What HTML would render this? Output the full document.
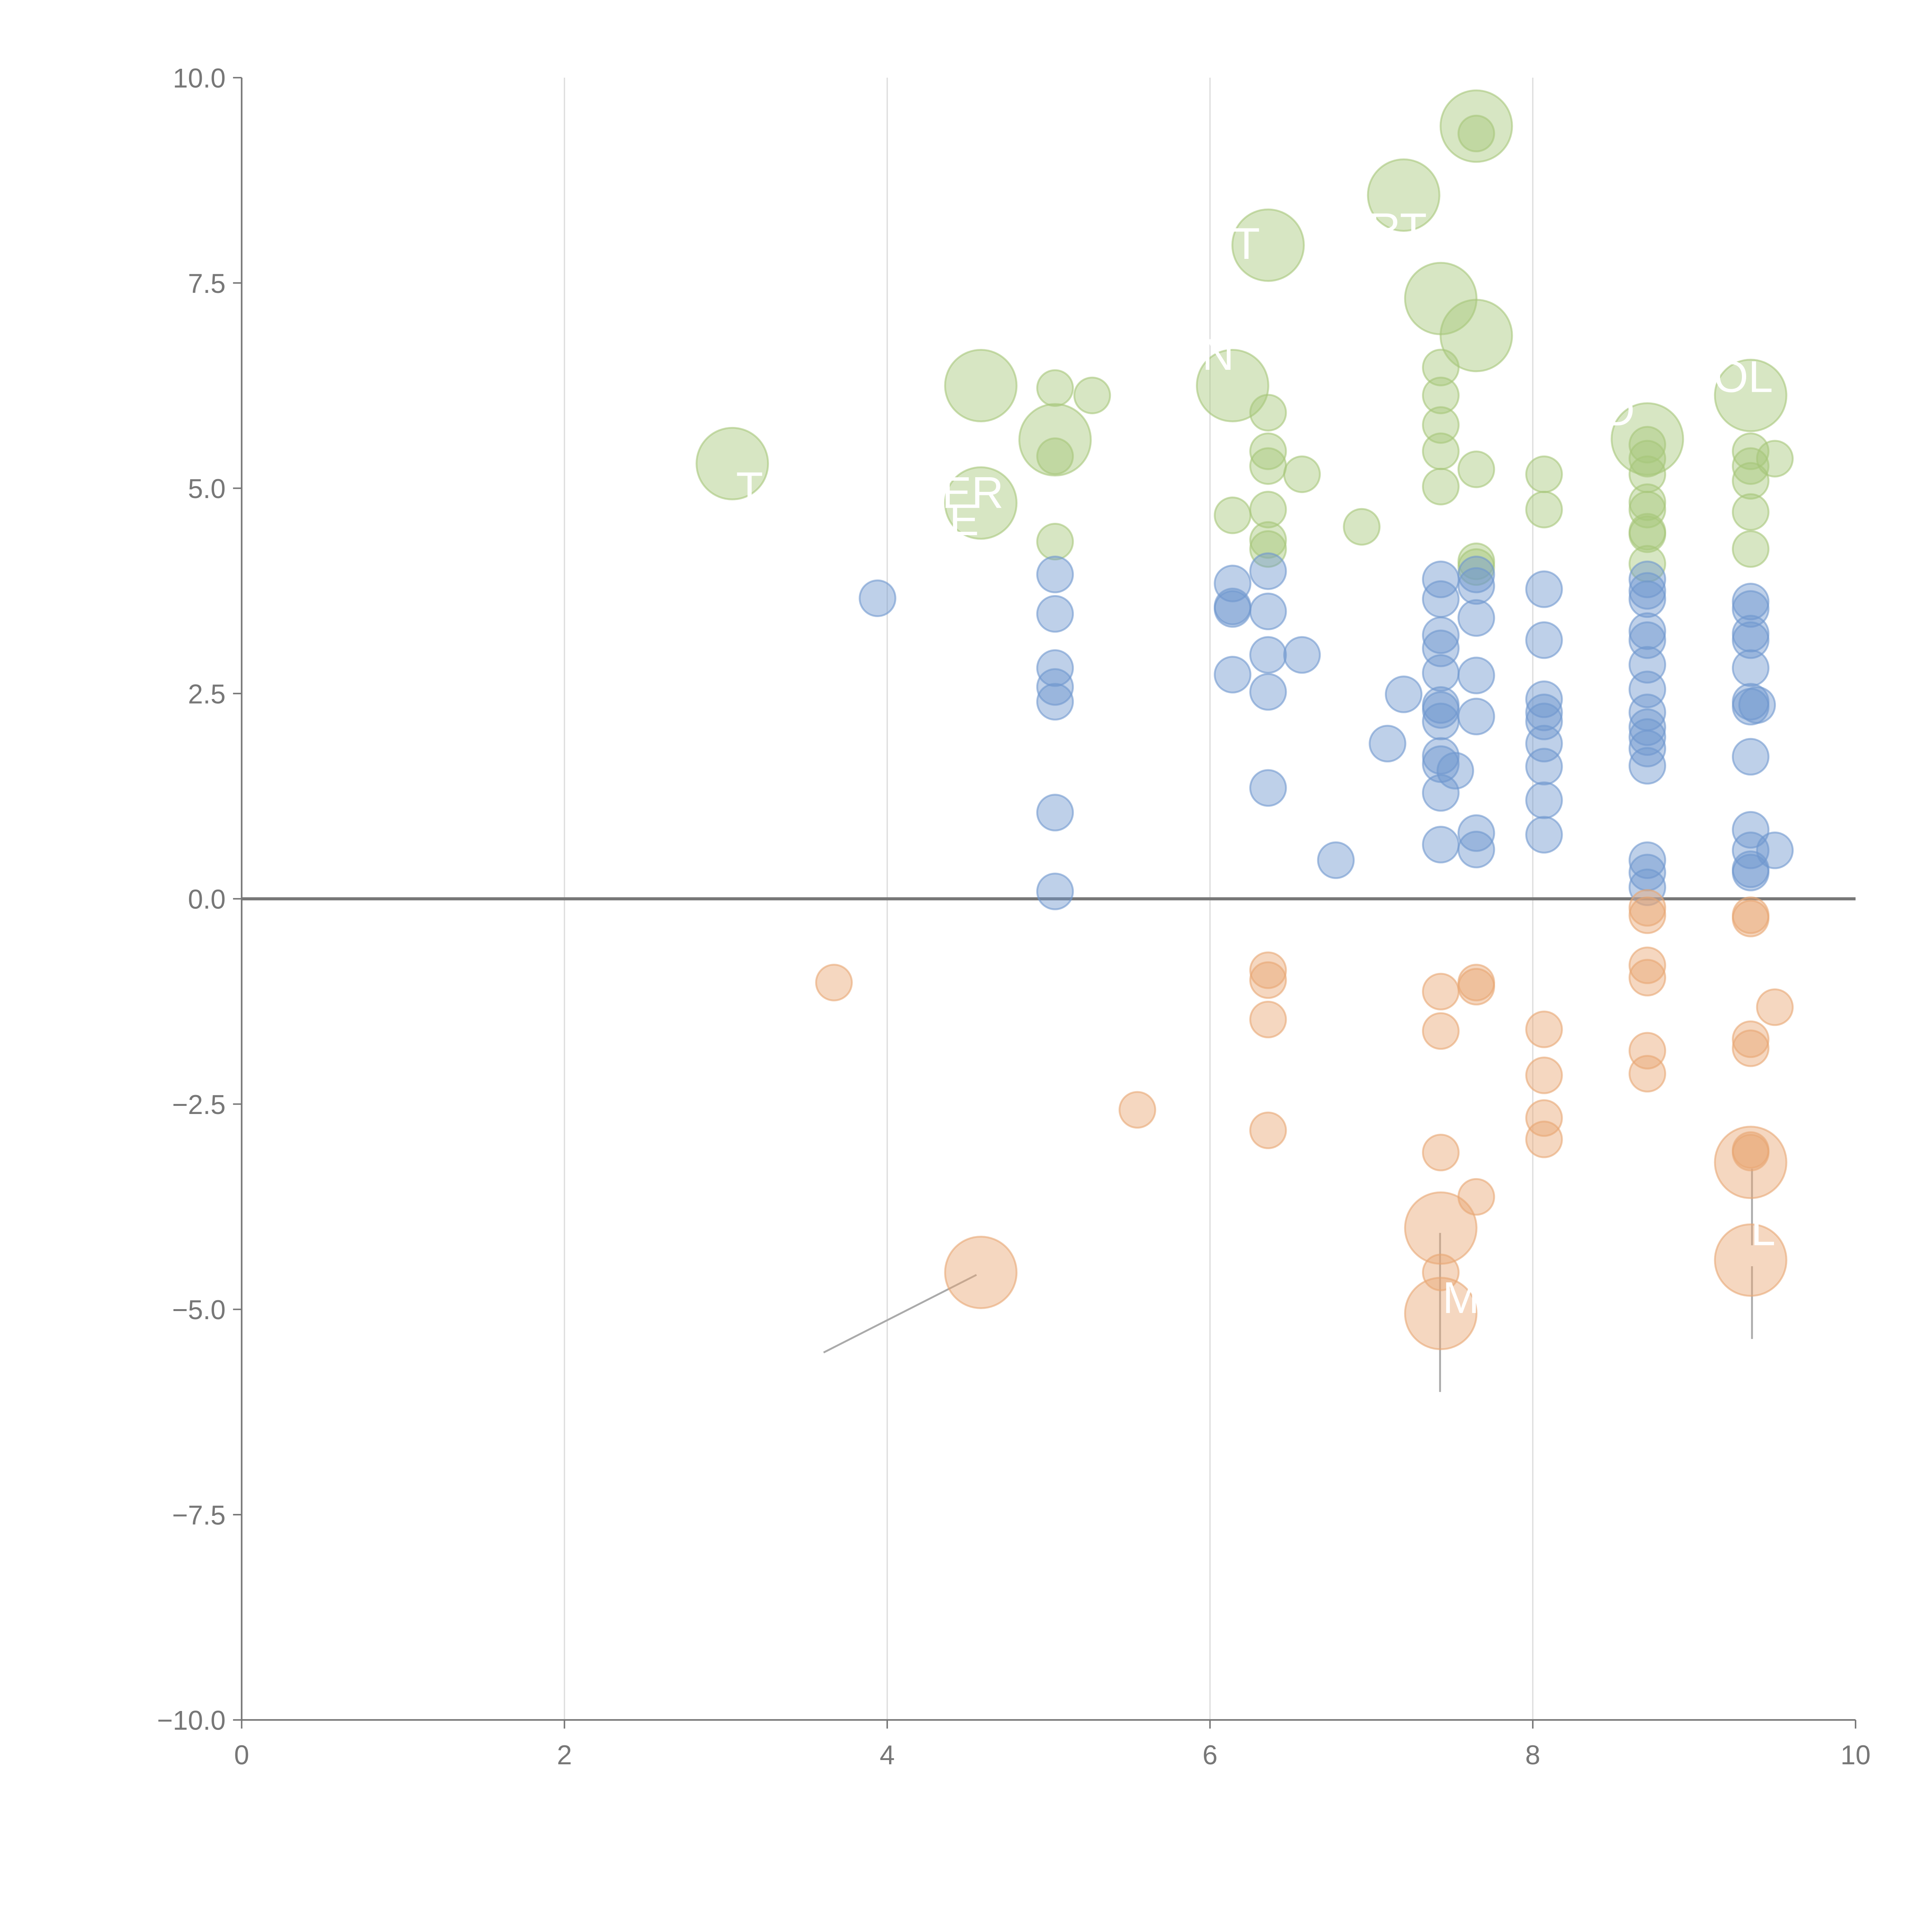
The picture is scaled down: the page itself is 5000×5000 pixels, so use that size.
<!DOCTYPE html>
<html><head><meta charset="utf-8"><style>
html,body{margin:0;padding:0;background:#fff;}
svg{display:block;}
text{font-family:"Liberation Sans",sans-serif;}
</style></head><body>
<svg id="chart" width="5000" height="5000" viewBox="0 0 1567 1567" xmlns="http://www.w3.org/2000/svg">
<g id="grid"></g>
<g id="axes"></g>
<g id="leaders"></g>
<g id="marks"></g>
<g id="labels"></g>
</svg>
<script>
const xTicks=[0,2,4,6,8,10];
const yTicks=[10,7.5,5,2.5,0,-2.5,-5,-7.5,-10];
const yTickLabels=["10.0","7.5","5.0","2.5","0.0","\u22122.5","\u22125.0","\u22127.5","\u221210.0"];
const greenSmallX=[5.04,5.27,5.04,5.04,6.14,6.36,6.36,6.36,6.36,6.36,6.36,6.57,6.94,7.43,7.43,7.43,7.43,7.43,7.65,7.65,7.65,7.65,8.07,8.07,8.71,8.71,8.71,8.71,8.71,8.71,8.71,8.71,9.35,9.35,9.35,9.35,9.35,9.5];
const greenSmallY=[6.22,6.13,5.39,4.35,4.67,5.92,5.45,5.27,4.74,4.37,4.26,5.17,4.53,6.47,6.13,5.77,5.45,5.02,5.23,4.11,4.04,9.32,5.17,4.74,5.53,5.36,5.17,4.83,4.74,4.47,4.44,4.08,5.45,5.27,5.09,4.71,4.26,5.36];
const greenBigX=[3.04,4.58,4.58,5.04,6.14,6.36,7.20,7.43,7.65,7.65,8.71,9.35];
const greenBigY=[5.30,6.25,4.82,5.59,6.25,7.96,8.57,7.31,9.41,6.86,5.60,6.13];
const blueX=[3.94,5.04,5.04,5.04,5.04,5.04,5.04,5.04,6.14,6.14,6.14,6.14,6.36,6.36,6.36,6.36,6.36,6.57,6.78,7.10,7.20,7.43,7.43,7.43,7.43,7.43,7.43,7.43,7.43,7.43,7.43,7.43,7.43,7.52,7.65,7.65,7.65,7.65,7.65,7.65,7.65,8.07,8.07,8.07,8.07,8.07,8.07,8.07,8.07,8.07,8.71,8.71,8.71,8.71,8.71,8.71,8.71,8.71,8.71,8.71,8.71,8.71,8.71,8.71,8.71,9.35,9.35,9.35,9.35,9.35,9.35,9.35,9.35,9.35,9.35,9.35,9.35,9.5,9.39];
const blueY=[3.66,3.95,3.47,2.81,2.58,2.40,1.05,0.09,3.84,3.56,3.53,2.73,3.99,3.50,2.97,2.52,1.35,2.97,0.47,1.89,2.49,3.89,3.65,3.21,3.05,2.75,2.36,2.30,2.16,1.74,1.64,1.29,0.66,1.56,3.95,3.81,3.42,2.72,2.22,0.80,0.60,3.77,3.15,2.43,2.27,2.16,1.89,1.61,1.20,0.78,3.89,3.75,3.65,3.26,3.15,2.85,2.55,2.27,2.09,1.97,1.83,1.62,0.47,0.32,0.14,3.62,3.53,3.23,3.15,2.81,2.40,2.34,1.73,0.84,0.59,0.36,0.32,0.59,2.36];
const orangeSmallX=[3.67,5.55,6.36,6.36,6.36,6.36,7.43,7.43,7.43,7.43,7.65,7.65,7.65,8.07,8.07,8.07,8.07,8.71,8.71,8.71,8.71,8.71,8.71,9.35,9.35,9.35,9.35,9.35,9.35,9.5];
const orangeSmallY=[-1.02,-2.57,-0.87,-0.99,-1.47,-2.82,-1.13,-1.61,-3.09,-4.55,-1.02,-1.07,-3.63,-1.59,-2.15,-2.67,-2.93,-0.11,-0.20,-0.81,-0.96,-1.85,-2.13,-0.20,-0.24,-1.71,-1.82,-3.06,-3.09,-1.32];
const orangeBigX=[4.58,7.43,7.43,9.35,9.35];
const orangeBigY=[-4.55,-4.01,-5.05,-3.21,-4.40];

const X0=196,X1=1505,Y0=1395,Y1=63;
function sx(v){return X0+(v-0)/(10-0)*(X1-X0);}
function sy(v){return Y0-(v+10)/20*(Y0-Y1);}
const NS="http://www.w3.org/2000/svg";
function mk(tag,parent,attrs){const e=document.createElementNS(NS,tag);for(const k in attrs)e.setAttribute(k,attrs[k]);parent.appendChild(e);return e;}
const grid=document.getElementById('grid'),axes=document.getElementById('axes'),marks=document.getElementById('marks'),labels=document.getElementById('labels'),leaders=document.getElementById('leaders');

xTicks.forEach(t=>{
  if(t>0&&t<10){const g=mk('line',grid,{x1:sx(t),x2:sx(t),y1:Y1,y2:Y0,stroke:'#dcdcdc','stroke-width':1});
  
  }
  const tk=mk('line',axes,{x1:sx(t),x2:sx(t),y1:Y0,y2:Y0+7,stroke:'#777','stroke-width':1.2});
  
  
  const tx=mk('text',axes,{x:sx(t),y:Y0+36,'text-anchor':'middle','font-size':22,fill:'#777'});
  tx.textContent=t;
  
  
});
yTicks.forEach((t,i)=>{
  const tk=mk('line',axes,{x1:X0-7,x2:X0,y1:sy(t),y2:sy(t),stroke:'#777','stroke-width':1.2});
  
  
  const tx=mk('text',axes,{x:X0-13,y:sy(t)+8,'text-anchor':'end','font-size':22,fill:'#777'});
  tx.textContent=yTickLabels[i];
  
  
});
const ya=mk('line',axes,{x1:X0,x2:X0,y1:Y1,y2:Y0,stroke:'#777','stroke-width':1.3});


const xa=mk('line',axes,{x1:X0,x2:X1,y1:Y0,y2:Y0,stroke:'#777','stroke-width':1.3});


const zl=mk('line',axes,{x1:X0,x2:X1,y1:sy(0),y2:sy(0),stroke:'#777','stroke-width':2.5});



function draw(xs,ys,r,col,name){
  xs.forEach((x,i)=>{
    const c=mk('circle',marks,{cx:sx(x),cy:sy(ys[i]),r:r,fill:col,'fill-opacity':0.45,stroke:col,'stroke-opacity':0.6,'stroke-width':1.5});
    
    
  });
}
draw(greenBigX,greenBigY,29,'#a6c779','green-bubble-large');
draw(greenSmallX,greenSmallY,14.5,'#a6c779','green-bubble');
draw(blueX,blueY,14.5,'#6f97cf','blue-bubble');
draw(orangeBigX,orangeBigY,29,'#e8a673','orange-bubble-large');
draw(orangeSmallX,orangeSmallY,14.5,'#e8a673','orange-bubble');

[[668,1097,792,1034],[1168,1000,1168,1129],[1421,948,1421,1010],[1421,1027,1421,1086]].forEach(l=>{
  const e=mk('line',leaders,{x1:l[0],y1:l[1],x2:l[2],y2:l[3],stroke:'#aaa','stroke-width':1.5});
  
  
});
[["T",597,408],["PER",740,412],["E",770,434],["T",1000,210],["RT",1110,198],["N",975,300],["D",1300,345],["OL",1390,318],["L",1420,1010],["M",1170,1065]].forEach(l=>{
  const t=mk('text',labels,{x:l[1],y:l[2],'font-size':36,fill:'#fff'});
  t.textContent=l[0];
  
  
});
</script>
</body></html>
